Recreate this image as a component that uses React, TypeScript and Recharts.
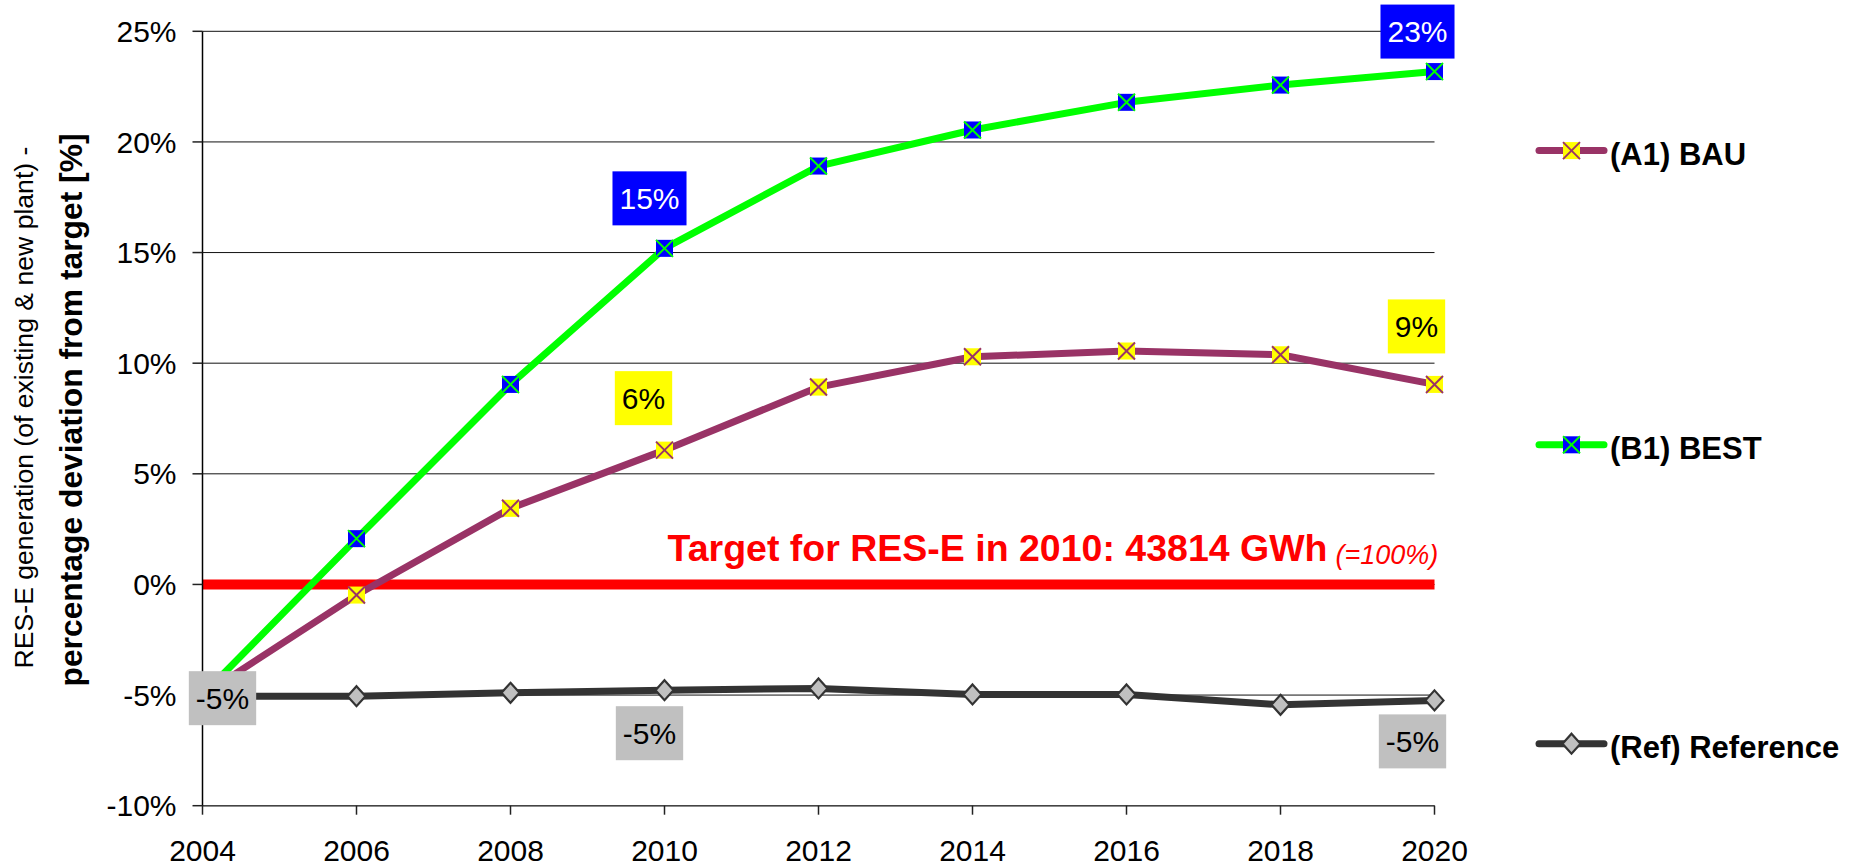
import React from 'react';
import { LineChart, Line, XAxis, YAxis, CartesianGrid, ReferenceLine, Legend, LabelList } from 'recharts';

// ---------- data ----------
const years = [2004, 2006, 2008, 2010, 2012, 2014, 2016, 2018, 2020];
const bauValues = [-5.0, -0.48, 3.44, 6.07, 8.92, 10.29, 10.55, 10.38, 9.04];
const bestValues = [-5.0, 2.07, 9.04, 15.19, 18.91, 20.54, 21.79, 22.57, 23.18];
const refValues = [-5.05, -5.05, -4.9, -4.78, -4.7, -4.97, -4.97, -5.44, -5.24];
const bauLabels = [null, null, null, '6%', null, null, null, null, '9%'];
const bestLabels = [null, null, null, '15%', null, null, null, null, '23%'];
const refLabels = ['-5%', null, null, '-5%', null, null, null, null, '-5%'];
const yTicks = [-10, -5, 0, 5, 10, 15, 20, 25];
const xTicks = [2004, 2006, 2008, 2010, 2012, 2014, 2016, 2018, 2020];
const targetValue = 0;
const targetText = 'Target for RES-E in 2010: 43814 GWh';
const targetNote = '(=100%)';
const yTitleLine1 = 'RES-E generation (of existing & new plant) -';
const yTitleLine2 = 'percentage deviation from target [%]';

// ---------- styles ----------
const FONT = '"Liberation Sans", Arial, Helvetica, sans-serif';

type SeriesCfg = {
  key: string;
  name: string;
  color: string;
  marker: 'xsquare' | 'diamond';
  markerFill: string;
  markerStroke: string;
  labelFill: string;
  labelText: string;
};

const series: SeriesCfg[] = [
  { key: 'bau', name: '(A1) BAU', color: '#993366', marker: 'xsquare', markerFill: '#FFFF00', markerStroke: '#993366', labelFill: '#FFFF00', labelText: '#000000' },
  { key: 'best', name: '(B1) BEST', color: '#00FF00', marker: 'xsquare', markerFill: '#0000FF', markerStroke: '#00FF00', labelFill: '#0000FF', labelText: '#FFFFFF' },
  { key: 'ref', name: '(Ref) Reference', color: '#333333', marker: 'diamond', markerFill: '#C0C0C0', markerStroke: '#333333', labelFill: '#C0C0C0', labelText: '#000000' },
];

// label box centre offsets relative to the data point (by point index)
const labelOffsets: Record<string, Record<number, [number, number]>> = {
  bau: { 3: [-21, -52], 8: [-18, -58] },
  best: { 3: [-15, -50], 8: [-17, -40] },
  ref: { 0: [20, 2], 3: [-15, 43], 8: [-22, 41] },
};

const legendRowsY = [150.6, 444.8, 743.7];

const data = years.map((year, i) => ({
  year,
  bau: bauValues[i],
  best: bestValues[i],
  ref: refValues[i],
  bauLabel: bauLabels[i],
  bestLabel: bestLabels[i],
  refLabel: refLabels[i],
}));

// ---------- marks ----------
const Marker = ({ cx, cy, s }: { cx: number; cy: number; s: SeriesCfg }) => {
  if (s.marker === 'diamond') {
    const hw = 9;
    const hh = 10;
    return (
      <polygon
        points={`${cx},${cy - hh} ${cx + hw},${cy} ${cx},${cy + hh} ${cx - hw},${cy}`}
        fill={s.markerFill}
        stroke={s.markerStroke}
        strokeWidth={2.2}
        strokeLinejoin="miter"
      />
    );
  }
  const h = 8.5;
  return (
    <g>
      <rect x={cx - h} y={cy - h} width={2 * h} height={2 * h} fill={s.markerFill} />
      <line x1={cx - h} y1={cy - h} x2={cx + h} y2={cy + h} stroke={s.markerStroke} strokeWidth={2} />
      <line x1={cx - h} y1={cy + h} x2={cx + h} y2={cy - h} stroke={s.markerStroke} strokeWidth={2} />
    </g>
  );
};

const makeDot = (s: SeriesCfg) => (props: any) => {
  const { cx, cy, index } = props;
  if (cx == null || cy == null) return <g key={`d-${s.key}-${index}`} />;
  return (
    <g key={`d-${s.key}-${index}`}>
      <Marker cx={cx} cy={cy} s={s} />
    </g>
  );
};

const textWidth = (t: string, size: number) => {
  let w = 0;
  for (const ch of t) {
    if (ch === '%') w += 0.889;
    else if (ch === '-') w += 0.333;
    else w += 0.556;
  }
  return w * size;
};

const makeLabel = (s: SeriesCfg) => (props: any) => {
  const { value, index } = props;
  if (value == null || value === '') return null;
  const vb = props.viewBox || {};
  const px = vb.x != null ? vb.x + (vb.width || 0) / 2 : props.x;
  const py = vb.y != null ? vb.y + (vb.height || 0) / 2 : props.y;
  if (px == null || py == null) return null;
  const off = (labelOffsets[s.key] || {})[index] || [0, -50];
  const cx = px + off[0];
  const cy = py + off[1];
  const fs = 30;
  const w = textWidth(String(value), fs) + 14;
  const h = 54;
  return (
    <g key={`l-${s.key}-${index}`}>
      <rect x={cx - w / 2} y={cy - h / 2} width={w} height={h} fill={s.labelFill} />
      <text x={cx} y={cy + 10.7} textAnchor="middle" fontSize={fs} fontFamily={FONT} fill={s.labelText}>
        {value}
      </text>
    </g>
  );
};

const TargetLabel = (props: any) => {
  const vb = props.viewBox || { x: 0, y: 0, width: 0 };
  const endX = vb.x + vb.width - 107;
  const baseY = vb.y - 23;
  return (
    <g>
      <text x={endX} y={baseY} textAnchor="end" fontSize={37.5} fontWeight="bold" fill="#FF0000" fontFamily={FONT}>
        {targetText}
      </text>
      <text x={endX + 8} y={baseY + 3} textAnchor="start" fontSize={27} fontStyle="italic" fill="#FF0000" fontFamily={FONT}>
        {targetNote}
      </text>
    </g>
  );
};

const YTitle = (props: any) => {
  const vb = props.viewBox || { x: 0, y: 0, width: 0, height: 0 };
  const cy = vb.y + vb.height / 2;
  const x1 = vb.x + 33;
  const y1 = cy - 11;
  const x2 = vb.x + 82;
  const y2 = cy - 8.5;
  return (
    <g>
      <text x={x1} y={y1} transform={`rotate(-90 ${x1} ${y1})`} textAnchor="middle" fontSize={26.6} fontFamily={FONT} fill="#000">
        {yTitleLine1}
      </text>
      <text x={x2} y={y2} transform={`rotate(-90 ${x2} ${y2})`} textAnchor="middle" fontSize={31.8} fontWeight="bold" fontFamily={FONT} fill="#000">
        {yTitleLine2}
      </text>
    </g>
  );
};

const LegendContent = () => (
  <svg width={360} height={866} style={{ display: 'block' }}>
    {series.map((s, i) => {
      const y = legendRowsY[i];
      return (
        <g key={s.key}>
          <line x1={39} y1={y} x2={104} y2={y} stroke={s.color} strokeWidth={7} strokeLinecap="round" />
          <Marker cx={71.5} cy={y} s={s} />
          <text x={110} y={y + 14} fontSize={31} fontWeight="bold" fontFamily={FONT} fill="#000">
            {s.name}
          </text>
        </g>
      );
    })}
  </svg>
);

export default function App() {
  return (
    <div style={{ position: 'absolute', left: 0, top: 0, width: 1860, height: 866, background: '#fff' }}>
      <LineChart width={1860} height={866} data={data} margin={{ top: 31.3, right: 425.5, bottom: 10, left: 0 }}>
        <CartesianGrid vertical={false} stroke="#111" strokeWidth={1} />
        <XAxis
          dataKey="year"
          type="number"
          domain={[2004, 2020]}
          ticks={xTicks}
          interval={0}
          height={50.3}
          tickSize={9}
          tickMargin={25}
          axisLine={{ stroke: '#444', strokeWidth: 1.5 }}
          tickLine={{ stroke: '#222', strokeWidth: 1.5 }}
          tick={{ fontSize: 30, fill: '#000', fontFamily: FONT }}
        />
        <YAxis
          type="number"
          domain={[-10, 25]}
          ticks={yTicks}
          interval={0}
          width={202.5}
          tickSize={10}
          tickMargin={16}
          tickFormatter={(v: number) => `${v}%`}
          axisLine={{ stroke: '#000', strokeWidth: 1.5 }}
          tickLine={{ stroke: '#222', strokeWidth: 1.5 }}
          tick={{ fontSize: 30, fill: '#000', fontFamily: FONT }}
          label={<YTitle />}
        />
        <ReferenceLine y={targetValue} stroke="#FF0000" strokeWidth={10} label={<TargetLabel />} />
        {series.map((s) => (
          <Line
            key={s.key}
            type="linear"
            dataKey={s.key}
            name={s.name}
            stroke={s.color}
            strokeWidth={7}
            strokeLinejoin="round"
            strokeLinecap="round"
            dot={makeDot(s)}
            activeDot={false}
            isAnimationActive={false}
          >
            <LabelList dataKey={`${s.key}Label`} content={makeLabel(s)} />
          </Line>
        ))}
        <Legend
          layout="vertical"
          align="center"
          verticalAlign="middle"
          wrapperStyle={{ position: 'absolute', left: 1500, top: 0, width: 360, height: 866, margin: 0, padding: 0 }}
          content={LegendContent}
        />
      </LineChart>
    </div>
  );
}
